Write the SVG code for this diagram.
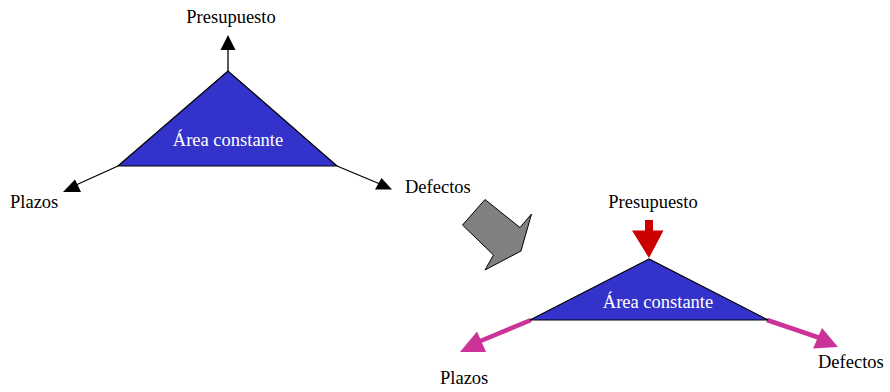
<svg xmlns="http://www.w3.org/2000/svg" width="890" height="392" viewBox="0 0 890 392">
<style>
text{font-family:"Liberation Serif","Times New Roman",serif;font-size:18.5px;fill:#000}
.tri{fill:#3333CC;stroke:#000;stroke-width:1.2;stroke-linejoin:miter}
.white{fill:#fff}
.blk{stroke:#000;stroke-width:1.3;fill:none}
.pink{stroke:#CC3399;stroke-width:4.5;fill:none}
</style>
<rect width="890" height="392" fill="#fff"/>
<g id="connectors">
  <line class="blk" x1="228" y1="71" x2="228" y2="49"/>
  <polygon points="228,35 220.5,50 235.5,50" fill="#000"/>
  <line class="blk" x1="118" y1="166" x2="76" y2="185"/>
  <polygon points="63,192 75,179.5 81,192" fill="#000"/>
  <line class="blk" x1="337" y1="166" x2="380" y2="184"/>
  <polygon points="392,189.5 381.5,178 375,189.5" fill="#000"/>
  <line class="pink" x1="531" y1="320" x2="478" y2="342"/>
  <polygon points="460,352 477,331.5 486,352" fill="#CC3399"/>
  <line class="pink" x1="767" y1="320" x2="820" y2="338"/>
  <polygon points="838,347 822,328 813,348.5" fill="#CC3399"/>
  <polygon points="645,220 653,220 653,230.5 663.5,230.5 649,258 632,230.5 645,230.5" fill="#CC0000"/>
</g>
<g id="transition-arrow">
  <polygon points="485,199.5 520,227.5 531.5,214 521,251 485,270 493.5,255 462.5,225" fill="#808080" stroke="#000" stroke-width="1"/>
</g>
<g id="triangle-before">
  <polygon class="tri" points="228,71 118,166 337,166"/>
  <text class="white" x="228" y="146" text-anchor="middle">Área constante</text>
</g>
<g id="label-presupuesto-1"><text x="231" y="23" text-anchor="middle">Presupuesto</text></g>
<g id="label-plazos-1"><text x="10" y="208">Plazos</text></g>
<g id="label-defectos-1"><text x="405" y="193">Defectos</text></g>
<g id="triangle-after">
  <polygon class="tri" points="649,259 530,320 768,320"/>
  <text class="white" x="658" y="308" text-anchor="middle">Área constante</text>
</g>
<g id="label-presupuesto-2"><text x="653" y="208" text-anchor="middle">Presupuesto</text></g>
<g id="label-plazos-2"><text x="440" y="384">Plazos</text></g>
<g id="label-defectos-2"><text x="818" y="368">Defectos</text></g>
</svg>
